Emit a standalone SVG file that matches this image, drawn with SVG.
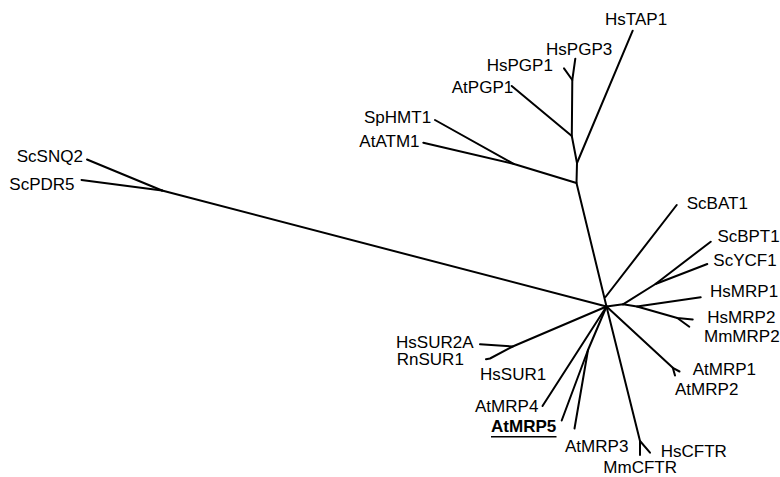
<svg xmlns="http://www.w3.org/2000/svg" width="780" height="477" viewBox="0 0 780 477">
  <style>
    .edge { fill: none; stroke: #000; stroke-width: 2; stroke-linecap: round; stroke-linejoin: round; }
    .lbl { font-family: "Liberation Sans", Arial, Helvetica, sans-serif; font-size: 16px; fill: #000; }
    .bold { font-weight: bold; }
  </style>
  <rect width="780" height="477" fill="#fff"/>

  <!-- unrooted ABC transporter tree: branches -->
  <g id="connectors" class="edge">
    <!-- PDR clade on the long branch -->
    <path d="M606.5,306.5 L162,190.5"/>
    <path d="M87,159.5 L162,190.5"/>
    <path d="M81.5,180 L162,190.5"/>

    <!-- MDR / ATM / TAP clade -->
    <path d="M606.5,306.5 L576.5,183 L577,163 L571.8,136 L572.3,80 L575.3,58.7"/>
    <path d="M564,68.3 L572.3,80"/>
    <path d="M511.7,86 L571.8,136"/>
    <path d="M577,163 L632.7,30.7"/>
    <path d="M576.5,183 L514,164 L423.3,142.7"/>
    <path d="M514,164 L435,120"/>

    <!-- ScBAT1 -->
    <path d="M605.5,297 L676.7,205"/>

    <!-- MRP1/2, BPT1/YCF1 -->
    <path d="M606.5,306.5 L623,304.3 L637,306.5 L700.7,297.3"/>
    <path d="M623,304.3 L655.5,284 L710.7,241.7"/>
    <path d="M655.5,284 L707.3,264"/>
    <path d="M637,306.5 L677.3,318 L692.7,319.5"/>
    <path d="M677.3,318 L689.3,326.7"/>

    <!-- AtMRP1/2 -->
    <path d="M606.5,306.5 L672.8,367.8 L679.5,371.5"/>
    <path d="M672.8,367.8 L675,375.5"/>

    <!-- CFTR -->
    <path d="M606.5,306.5 L640,441 L640,455"/>
    <path d="M640,441 L650,452.7"/>

    <!-- SUR -->
    <path d="M606.5,306.5 L512.7,346.5 L480,344.3"/>
    <path d="M512.7,346.5 L490,358.5 L486,359.3"/>

    <!-- AtMRP4 / AtMRP5 / AtMRP3 -->
    <path d="M606.5,306.5 L542.5,406"/>
    <path d="M606.5,306.5 L588,350 L561.7,420.5"/>
    <path d="M588,350 L574.5,428.5"/>
  </g>

  <!-- leaf labels -->
  <g id="HsTAP1"><text class="lbl" transform="translate(605 25) scale(1.065 1)">HsTAP1</text></g>
  <g id="HsPGP3"><text class="lbl" transform="translate(546 55) scale(1.065 1)">HsPGP3</text></g>
  <g id="HsPGP1"><text class="lbl" transform="translate(486.7 71) scale(1.065 1)">HsPGP1</text></g>
  <g id="AtPGP1"><text class="lbl" transform="translate(451.7 93) scale(1.065 1)">AtPGP1</text></g>
  <g id="SpHMT1"><text class="lbl" transform="translate(364 123.3) scale(1.065 1)">SpHMT1</text></g>
  <g id="AtATM1"><text class="lbl" transform="translate(359.3 146.7) scale(1.065 1)">AtATM1</text></g>
  <g id="ScSNQ2"><text class="lbl" transform="translate(16.7 161.7) scale(1.065 1)">ScSNQ2</text></g>
  <g id="ScPDR5"><text class="lbl" transform="translate(9.3 190) scale(1.065 1)">ScPDR5</text></g>
  <g id="ScBAT1"><text class="lbl" transform="translate(686.7 209.3) scale(1.065 1)">ScBAT1</text></g>
  <g id="ScBPT1"><text class="lbl" transform="translate(717.5 241.7) scale(1.06 1)">ScBPT1</text></g>
  <g id="ScYCF1"><text class="lbl" transform="translate(713.3 266) scale(1.065 1)">ScYCF1</text></g>
  <g id="HsMRP1"><text class="lbl" transform="translate(710 297.3) scale(1.065 1)">HsMRP1</text></g>
  <g id="HsMRP2"><text class="lbl" transform="translate(707.3 323.3) scale(1.065 1)">HsMRP2</text></g>
  <g id="MmMRP2"><text class="lbl" transform="translate(704 341.7) scale(1.065 1)">MmMRP2</text></g>
  <g id="AtMRP1"><text class="lbl" transform="translate(692.7 375) scale(1.065 1)">AtMRP1</text></g>
  <g id="AtMRP2"><text class="lbl" transform="translate(675 395) scale(1.065 1)">AtMRP2</text></g>
  <g id="HsSUR2A"><text class="lbl" transform="translate(396 348.3) scale(1.065 1)">HsSUR2A</text></g>
  <g id="RnSUR1"><text class="lbl" transform="translate(396.7 365) scale(1.065 1)">RnSUR1</text></g>
  <g id="HsSUR1"><text class="lbl" transform="translate(480 380) scale(1.065 1)">HsSUR1</text></g>
  <g id="AtMRP4"><text class="lbl" transform="translate(475 411.7) scale(1.065 1)">AtMRP4</text></g>
  <g id="AtMRP5">
    <text class="lbl bold" transform="translate(491 432.3) scale(1.065 1)">AtMRP5</text>
    <line x1="491" y1="436.8" x2="556.5" y2="436.8" stroke="#000" stroke-width="1.6"/>
  </g>
  <g id="AtMRP3"><text class="lbl" transform="translate(565 452.3) scale(1.065 1)">AtMRP3</text></g>
  <g id="HsCFTR"><text class="lbl" transform="translate(660.7 456.7) scale(1.065 1)">HsCFTR</text></g>
  <g id="MmCFTR"><text class="lbl" transform="translate(603.3 473.3) scale(1.065 1)">MmCFTR</text></g>
</svg>
